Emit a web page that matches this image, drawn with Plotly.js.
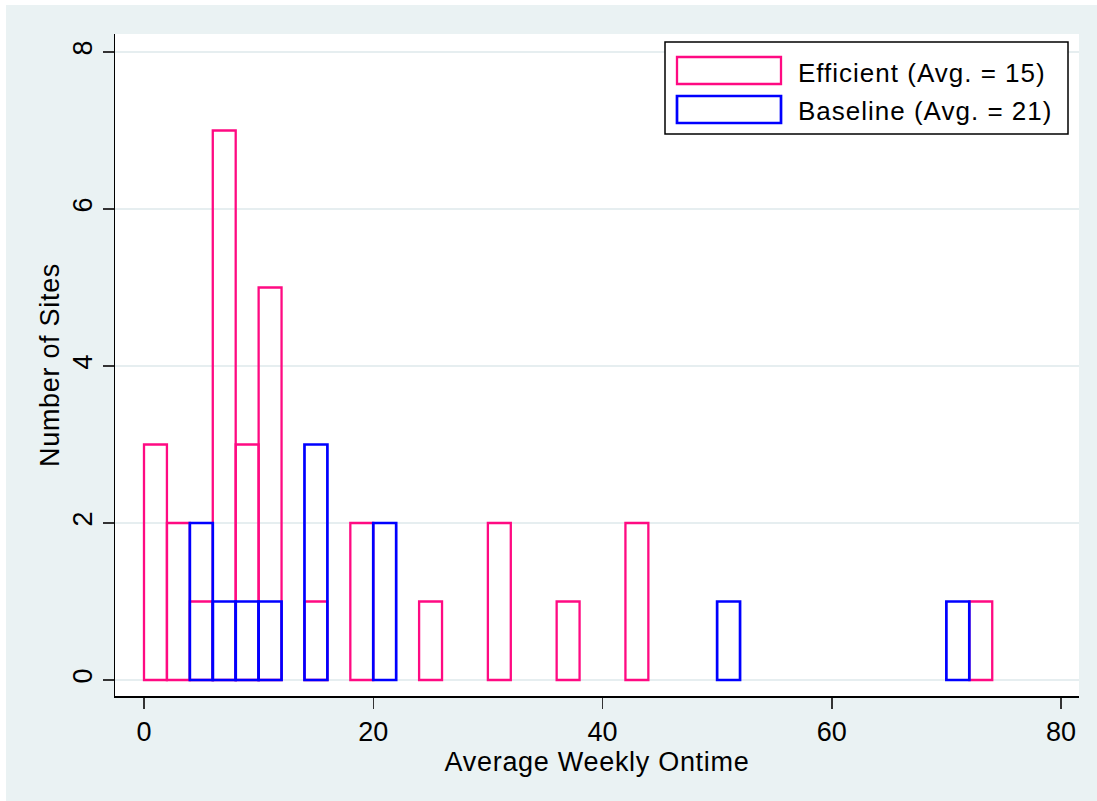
<!DOCTYPE html>
<html>
<head>
<meta charset="utf-8">
<script src="https://cdn.plot.ly/plotly-3.0.1.min.js"></script>
<style>
  html, body { margin: 0; padding: 0; background: #ffffff; width: 1097px; height: 801px; overflow: hidden; }
  #chart { position: absolute; left: 6px; top: 5px; width: 1091px; height: 796px; }
</style>
</head>
<body>
<div id="chart"></div>
<script>
// ---- data (bin start, count per 2-unit bin) ----
const binWidth = 2;
const effBins   = [0, 2, 4, 6, 8, 10, 14, 18, 24, 30, 36, 42, 72];
const effCounts = [3, 2, 1, 7, 3, 5, 1, 2, 1, 2, 1, 2, 1];
const baseBins   = [4, 6, 8, 10, 14, 20, 50, 70];
const baseCounts = [2, 1, 1, 1, 3, 2, 1, 1];
const effName  = "Efficient (Avg. = 15)";
const baseName = "Baseline (Avg. = 21)";
const xTicks = [0, 20, 40, 60, 80];
const yTicks = [0, 2, 4, 6, 8];
const xTitle = "Average Weekly Ontime";
const yTitle = "Number of Sites";

const PINK = "#ff0a82";
const BLUE = "#0000ff";
const FONT = "Liberation Sans, Arial, sans-serif";

const spaced = (t, ls) => '<span style="letter-spacing:' + ls + 'px">' + t + '</span>';

const traces = [
  {
    type: "bar", name: effName, x: effBins, y: effCounts,
    width: binWidth, offset: 0,
    marker: { color: "rgba(0,0,0,0)", line: { color: PINK, width: 2.3 } },
    showlegend: false, hoverinfo: "x+y"
  },
  {
    type: "bar", name: baseName, x: baseBins, y: baseCounts,
    width: binWidth, offset: 0,
    marker: { color: "rgba(0,0,0,0)", line: { color: BLUE, width: 2.7 } },
    showlegend: false, hoverinfo: "x+y"
  }
];

// legend geometry in paper coords (custom legend to mimic large swatches)
const px = v => (v - 115) / 964;
const py = v => (696 - v) / 662;

const layout = {
  width: 1091, height: 796,
  paper_bgcolor: "#eaf2f3",
  plot_bgcolor: "#ffffff",
  margin: { l: 109, r: 18, t: 29, b: 105, pad: 0 },
  barmode: "overlay",
  bargap: 0,
  font: { family: FONT, color: "#000000", size: 27 },
  xaxis: {
    range: [-2.53, 81.57],
    tickvals: xTicks, ticktext: xTicks.map(String),
    ticks: "outside", ticklen: 11, tickwidth: 1.5, tickcolor: "#333333",
    showgrid: false, zeroline: false,
    showline: true, linecolor: "#000000", linewidth: 1.5,
    tickfont: { family: FONT, size: 27, color: "#000" },
    title: { text: spaced(xTitle, 0.7), font: { family: FONT, size: 27, color: "#000" }, standoff: 4 },
    fixedrange: true
  },
  yaxis: {
    range: [-0.204, 8.229],
    tickvals: yTicks, ticktext: yTicks.map(String),
    ticks: "outside", ticklen: 11, tickwidth: 1.5, tickcolor: "#333333",
    tickangle: -90,
    showgrid: true, gridcolor: "#e6eef0", gridwidth: 2,
    zeroline: false,
    showline: true, linecolor: "#000000", linewidth: 1.5,
    tickfont: { family: FONT, size: 27, color: "#000" },
    title: { text: spaced(yTitle, 0.7), font: { family: FONT, size: 27, color: "#000" }, standoff: 0 },
    fixedrange: true
  },
  shapes: [
    { type: "rect", xref: "paper", yref: "paper", x0: px(665), x1: px(1068), y0: py(134), y1: py(42),
      line: { color: "#000000", width: 1.5 }, fillcolor: "#ffffff", layer: "above" },
    { type: "rect", xref: "paper", yref: "paper", x0: px(677), x1: px(781), y0: py(84), y1: py(57),
      line: { color: PINK, width: 2.3 }, fillcolor: "rgba(0,0,0,0)", layer: "above" },
    { type: "rect", xref: "paper", yref: "paper", x0: px(677), x1: px(781), y0: py(123), y1: py(96),
      line: { color: BLUE, width: 2.7 }, fillcolor: "rgba(0,0,0,0)", layer: "above" }
  ],
  annotations: [
    { xref: "paper", yref: "paper", x: px(796), y: py(73), xanchor: "left", yanchor: "middle",
      text: spaced(effName, 1.0), showarrow: false, font: { family: FONT, size: 26, color: "#000" } },
    { xref: "paper", yref: "paper", x: px(796), y: py(111), xanchor: "left", yanchor: "middle",
      text: spaced(baseName, 1.0), showarrow: false, font: { family: FONT, size: 26, color: "#000" } }
  ],
  showlegend: false
};

Plotly.newPlot("chart", traces, layout, { displayModeBar: false, staticPlot: true });
</script>
</body>
</html>
